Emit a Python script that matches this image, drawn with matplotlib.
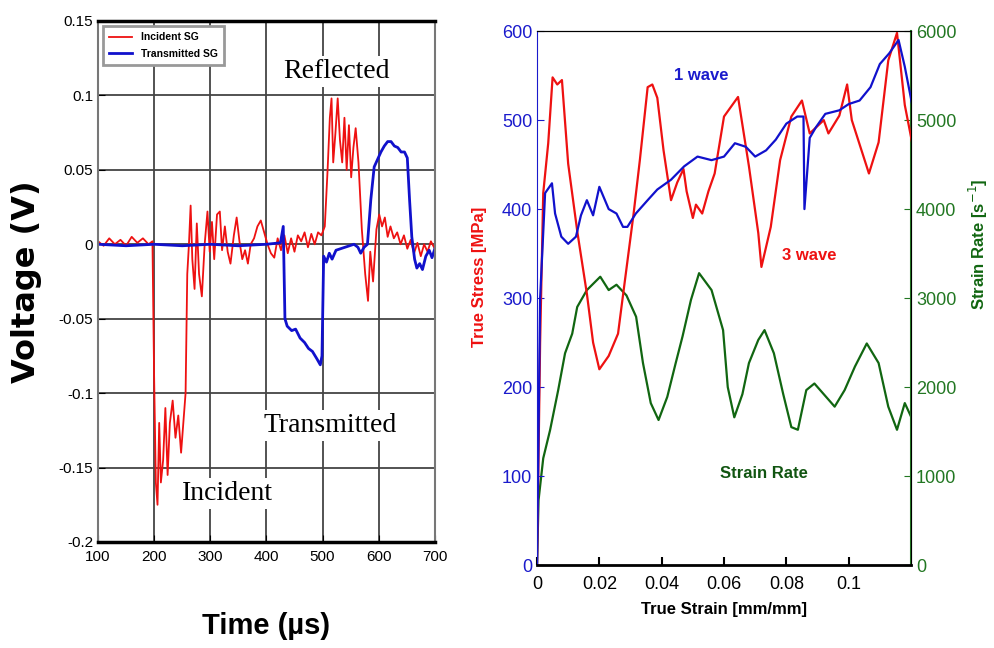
import matplotlib.pyplot as plt
import numpy as np

# ---------------- left panel: strain gauge signals ----------------
t_inc = [100, 110, 120, 130, 140, 150, 160, 170, 180, 190, 197, 200, 203, 206, 209, 212, 216, 220,
         224, 228, 233, 238, 243, 248, 252, 256, 259, 262, 265, 268, 272, 276, 280, 285, 290, 295,
         299, 303, 307, 312, 317, 321, 326, 331, 336, 342, 347, 352, 357, 362, 367, 372, 378, 384,
         390, 396, 402, 408, 414, 420, 426, 432, 438, 444, 450, 456, 462, 468, 474, 480, 486, 492,
         498, 504, 509, 513, 516, 519, 523, 527, 531, 535, 539, 543, 547, 551, 555, 559, 564, 570,
         576, 581, 585, 590, 596, 601, 606, 611, 616, 621, 627, 633, 639, 645, 651, 657, 663, 669,
         675, 681, 687, 693, 700]
v_inc = [0.002, -0.001, 0.004, 0.0, 0.003, -0.001, 0.005, 0.001, 0.004, 0.0, 0.002, -0.09, -0.16,
         -0.175, -0.12, -0.16, -0.145, -0.11, -0.155, -0.12, -0.105, -0.13, -0.115, -0.14, -0.12,
         -0.10, -0.02, 0.0, 0.026, -0.01, -0.03, 0.014, -0.02, -0.035, 0.0, 0.022, -0.005, 0.015,
         -0.01, 0.02, 0.022, -0.004, 0.012, -0.005, -0.013, 0.006, 0.018, 0.002, -0.01, -0.004,
         -0.013, 0.0, 0.004, 0.012, 0.016, 0.008, 0.0, -0.006, -0.009, 0.004, -0.004, 0.006, -0.006,
         0.004, -0.005, 0.006, 0.002, 0.008, -0.002, 0.007, 0.0, 0.008, 0.006, 0.012, 0.05, 0.085,
         0.098, 0.055, 0.075, 0.098, 0.07, 0.055, 0.085, 0.05, 0.08, 0.045, 0.065, 0.078, 0.055,
         0.01, -0.02, -0.038, -0.005, -0.025, 0.01, 0.02, 0.012, 0.018, 0.005, 0.012, 0.004, 0.008,
         0.0, 0.006, -0.003, 0.003, -0.006, 0.001, -0.008, 0.0, -0.005, 0.002, -0.003]

t_tr = [100, 150, 200, 250, 300, 350, 400, 425, 430, 433, 437, 445, 452, 460, 468, 475, 482, 490,
        496, 499, 502, 507, 512, 517, 524, 532, 540, 548, 556, 563, 568, 574, 580, 586, 592, 598,
        604, 610, 616, 622, 628, 634, 640, 646, 651, 655, 659, 664, 668, 673, 678, 684, 690, 695, 700]
v_tr = [0.0, -0.001, 0.0, -0.001, 0.0, -0.001, 0.0, 0.001, 0.012, -0.05, -0.055, -0.058, -0.057,
        -0.063, -0.066, -0.07, -0.072, -0.077, -0.081, -0.075, -0.008, -0.012, -0.006, -0.01,
        -0.004, -0.003, -0.002, -0.001, 0.0, -0.002, -0.006, -0.002, 0.0, 0.03, 0.052, 0.057,
        0.062, 0.066, 0.069, 0.069, 0.066, 0.065, 0.062, 0.062, 0.058, 0.03, 0.005, -0.01, -0.016,
        -0.013, -0.017, -0.008, -0.004, -0.009, -0.003]

t_ticks = [100, 200, 300, 400, 500, 600, 700]
v_ticks = [0.15, 0.1, 0.05, 0, -0.05, -0.1, -0.15, -0.2]
v_ticklabels = ['0.15', '0.1', '0.05', '0', '-0.05', '-0.1', '-0.15', '-0.2']

# ---------------- right panel: stress-strain and strain rate ----------------
e_3w = [0.0, 0.001, 0.002, 0.0036, 0.005, 0.0065, 0.008, 0.01, 0.013, 0.016, 0.018, 0.02, 0.023,
        0.026, 0.0274, 0.031, 0.033, 0.0355, 0.037, 0.0386, 0.0406, 0.043, 0.045, 0.047, 0.048,
        0.05, 0.051, 0.053, 0.055, 0.057, 0.06, 0.0645, 0.068, 0.071, 0.072, 0.075, 0.078, 0.0816,
        0.085, 0.0875, 0.092, 0.0935, 0.097, 0.0995, 0.101, 0.1065, 0.1096, 0.1127, 0.1155, 0.118,
        0.1205]
s_3w = [0, 250, 418, 474, 548, 540, 545, 451, 373, 305, 250, 220, 235, 260, 298, 395, 455, 537, 540,
        525, 466, 410, 430, 445, 420, 390, 405, 395, 420, 440, 504, 526, 448, 373, 335, 380, 455,
        504, 522, 485, 500, 485, 505, 540, 500, 440, 475, 567, 598, 517, 472]

e_1w = [0.0, 0.001, 0.0026, 0.0048, 0.0058, 0.0078, 0.01, 0.0125, 0.0141, 0.016, 0.018, 0.02, 0.023,
        0.0255, 0.0276, 0.029, 0.0317, 0.0355, 0.0386, 0.043, 0.0472, 0.0515, 0.056, 0.06, 0.0635,
        0.067, 0.07, 0.0735, 0.0766, 0.08, 0.0835, 0.0855, 0.0858, 0.0875, 0.0895, 0.0925, 0.097,
        0.1, 0.1035, 0.107, 0.11, 0.113, 0.116, 0.118, 0.1205]
s_1w = [0, 300, 418, 429, 395, 369, 361, 369, 393, 410, 393, 425, 400, 395, 380, 380, 395, 410, 422,
        433, 448, 459, 455, 459, 474, 470, 459, 466, 478, 496, 504, 504, 400, 480, 492, 507, 511,
        518, 522, 537, 563, 575, 590, 560, 515]

e_rate = [0.0, 0.0005, 0.002, 0.0042, 0.0068, 0.009, 0.0113, 0.0129, 0.016, 0.0203, 0.023, 0.0255,
          0.0287, 0.0318, 0.034, 0.0365, 0.039, 0.0418, 0.0445, 0.0467, 0.0494, 0.052, 0.056,
          0.0597, 0.0612, 0.0633, 0.0659, 0.068, 0.071, 0.073, 0.076, 0.079, 0.0816, 0.0837,
          0.0864, 0.089, 0.092, 0.0955, 0.0987, 0.102, 0.1058, 0.1096, 0.1127, 0.1155, 0.118, 0.1205]
rate = [0, 730, 1200, 1517, 1966, 2380, 2600, 2900, 3090, 3240, 3090, 3150, 3030, 2790, 2270, 1820,
        1630, 1890, 2270, 2570, 2980, 3280, 3090, 2640, 2000, 1660, 1920, 2270, 2530, 2640, 2380,
        1920, 1550, 1520, 1966, 2040, 1920, 1780, 1966, 2230, 2490, 2270, 1780, 1520, 1820, 1630]

e_ticks = [0, 0.02, 0.04, 0.06, 0.08, 0.1]
e_ticklabels = ['0', '0.02', '0.04', '0.06', '0.08', '0.1']
s_ticks = [0, 100, 200, 300, 400, 500, 600]
r_ticks = [0, 1000, 2000, 3000, 4000, 5000, 6000]

narrow = ['Liberation Sans Narrow', 'Liberation Sans', 'DejaVu Sans']
serif = ['Liberation Serif', 'DejaVu Serif']

fig = plt.figure(figsize=(9.95, 6.48), dpi=100)

# ================= left panel =======================
ax1 = fig.add_axes([0.0985, 0.1636, 0.3385, 0.804])
ax1.plot(t_inc, v_inc, color='#ee1111', lw=1.3, label='Incident SG')
ax1.plot(t_tr, v_tr, color='#1111cc', lw=2.0, label='Transmitted SG')
ax1.set_xlim(100, 700)
ax1.set_ylim(-0.2, 0.15)
ax1.set_xticks(t_ticks)
ax1.set_yticks(v_ticks)
ax1.set_yticklabels(v_ticklabels)
ax1.tick_params(direction='in', length=5, labelsize=11)
ax1.tick_params(axis='x', pad=6)
for lab in ax1.get_xticklabels() + ax1.get_yticklabels():
    lab.set_family(narrow)
ax1.grid(True, color='#444444', lw=1.3)
for side in ['top', 'bottom']:
    ax1.spines[side].set_linewidth(2.5)
for side in ['left', 'right']:
    ax1.spines[side].set_color('#777777')
    ax1.spines[side].set_linewidth(1.5)
ax1.set_xlabel('Time (µs)', fontsize=21, fontweight='bold', family=narrow, labelpad=34)
ax1.set_ylabel('Voltage (V)', fontsize=23, fontweight='bold', labelpad=12)
leg = ax1.legend(loc='upper left', fontsize=7.5, frameon=True, fancybox=False,
                 handlelength=2.2, borderpad=0.6, labelspacing=0.6)
leg.get_frame().set_edgecolor('#999999')
leg.get_frame().set_linewidth(2)
leg.get_frame().set_alpha(1)
for txt in leg.get_texts():
    txt.set_family(narrow)
    txt.set_fontweight('bold')

box = dict(facecolor='white', edgecolor='none', pad=2)
ax1.text(525, 0.116, 'Reflected', fontsize=20, family=serif, ha='center', va='center', bbox=box)
ax1.text(513, -0.1216, 'Transmitted', fontsize=20, family=serif, ha='center', va='center', bbox=box)
ax1.text(331, -0.1676, 'Incident', fontsize=20, family=serif, ha='center', va='center', bbox=box)

# ================= right panel =======================
ax2 = fig.add_axes([0.5397, 0.128, 0.3759, 0.824])
ax3 = ax2.twinx()
ax3.plot(e_rate, rate, color='#116611', lw=1.6)
ax2.plot(e_3w, s_3w, color='#ee1111', lw=1.6)
ax2.plot(e_1w, s_1w, color='#1111cc', lw=1.6)
ax2.set_zorder(ax3.get_zorder() + 1)
ax2.patch.set_visible(False)

ax2.set_xlim(0, 0.12)
ax2.set_ylim(0, 600)
ax3.set_ylim(0, 6000)
ax2.set_xticks(e_ticks)
ax2.set_xticklabels(e_ticklabels)
ax2.set_yticks(s_ticks)
ax3.set_yticks(r_ticks)
ax2.tick_params(axis='x', direction='in', length=6, width=1.5, labelsize=13, pad=8)
ax2.tick_params(axis='y', direction='in', length=5, labelsize=13, colors='#1a1acc')
ax3.tick_params(axis='y', direction='in', length=5, labelsize=13, colors='#227722')
for lab in ax2.get_xticklabels() + ax2.get_yticklabels() + ax3.get_yticklabels():
    lab.set_family(narrow)
ax2.spines['left'].set_color('#1a1acc')
ax2.spines['bottom'].set_linewidth(2)
ax3.spines['right'].set_color('#227722')
ax3.spines['right'].set_linewidth(1.5)
ax3.spines['left'].set_visible(False)

ax2.set_xlabel('True Strain [mm/mm]', fontsize=12, fontweight='bold', family=narrow, labelpad=6)
ax2.set_ylabel('True Stress [MPa]', fontsize=12, fontweight='bold', color='#ee1111', family=narrow)
ax2.yaxis.set_label_coords(-0.135, 0.54)
ax3.set_ylabel('Strain Rate [s$^{-1}$]', fontsize=12, fontweight='bold', color='#116611', family=narrow)
ax3.yaxis.set_label_coords(1.15, 0.6)

ax2.text(0.0526, 550, '1 wave', fontsize=12, fontweight='bold', color='#1a1acc', family=narrow,
         ha='center', va='center')
ax2.text(0.0874, 348, '3 wave', fontsize=12, fontweight='bold', color='#ee1111', family=narrow,
         ha='center', va='center')
ax3.text(0.0729, 1034, 'Strain Rate', fontsize=12, fontweight='bold', color='#115511', family=narrow,
         ha='center', va='center')

plt.savefig('out.png', dpi=100)
